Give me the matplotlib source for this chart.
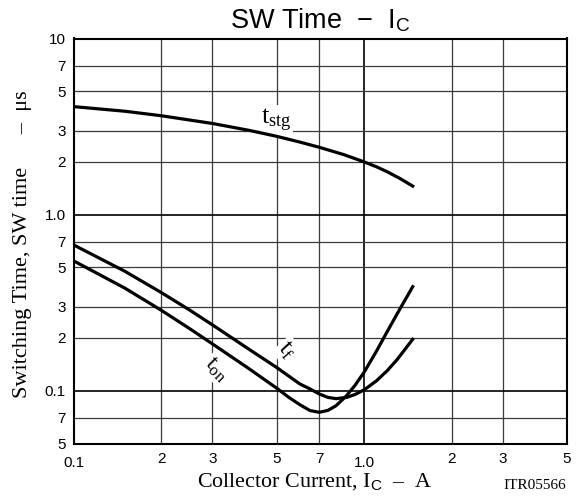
"""SW Time - IC : switching time vs collector current (log-log)."""

import matplotlib
matplotlib.use("Agg")
import matplotlib.pyplot as plt
import matplotlib.transforms as mtrans

plt.rcParams["mathtext.fontset"] = "custom"
plt.rcParams["mathtext.rm"] = "Liberation Serif"
plt.rcParams["mathtext.sf"] = "Liberation Sans"
plt.rcParams["mathtext.it"] = "Liberation Serif:italic"

SANS = "Liberation Sans"
SERIF = "Liberation Serif"

# leituras da curva (A, us)
ic_stg = [0.1, 0.15, 0.2, 0.3, 0.4, 0.5, 0.6, 0.7, 0.85, 1.0, 1.1, 1.2, 1.33, 1.47]
t_stg = [4.1, 3.86, 3.64, 3.29, 3.01, 2.78, 2.58, 2.41, 2.19, 1.99, 1.87, 1.75, 1.6, 1.45]

ic_f = [0.1, 0.15, 0.2, 0.25, 0.3, 0.4, 0.5, 0.6, 0.65, 0.7, 0.75, 0.8, 0.87, 0.93,
        1.0, 1.1, 1.2, 1.3, 1.47]
t_f = [0.67, 0.475, 0.36, 0.287, 0.236, 0.172, 0.135, 0.109, 0.1022, 0.0956, 0.0914,
       0.0899, 0.0914, 0.0949, 0.1009, 0.1132, 0.1295, 0.1502, 0.1956]

ic_on = [0.1, 0.15, 0.2, 0.25, 0.3, 0.4, 0.5, 0.55, 0.6, 0.65, 0.7, 0.75, 0.8, 0.865,
         0.93, 1.0, 1.1, 1.2, 1.3, 1.47]
t_on = [0.544, 0.381, 0.2855, 0.225, 0.184, 0.1334, 0.103, 0.0914, 0.0831, 0.077,
        0.0752, 0.0771, 0.082, 0.0926, 0.107, 0.1273, 0.1662, 0.2158, 0.2734, 0.389]

x_ticks = [0.1, 0.2, 0.3, 0.5, 0.7, 1.0, 2, 3, 5]
x_labels = ["0.1", "2", "3", "5", "7", "1.0", "2", "3", "5"]
y_ticks = [0.05, 0.07, 0.1, 0.2, 0.3, 0.5, 0.7, 1.0, 2, 3, 5, 7, 10]
y_labels = ["5", "7", "0.1", "2", "3", "5", "7", "1.0", "2", "3", "5", "7", "10"]
decades = [0.1, 1.0, 10]

fig = plt.figure(figsize=(5.8, 4.97), dpi=100)
ax = fig.add_axes([74 / 580, 1 - 443.5 / 497, (567 - 74) / 580, (443.5 - 38.5) / 497])
ax.set_xscale("log")
ax.set_yscale("log")
ax.set_xlim(0.1, 5)
ax.set_ylim(0.05, 10)

ax.set_xticks(x_ticks, x_labels, minor=False)
ax.set_yticks(y_ticks, y_labels, minor=False)
ax.minorticks_off()
ax.tick_params(length=0, labelsize=11, pad=6)
for lab in ax.get_xticklabels() + ax.get_yticklabels():
    lab.set_family(SANS)

ax.grid(True, which="major", color="#3a3a3a", lw=0.9)
for gl, v in zip(ax.get_xgridlines(), x_ticks):
    if v in decades:
        gl.set_color("black")
        gl.set_linewidth(1.2)
for gl, v in zip(ax.get_ygridlines(), y_ticks):
    if v in decades:
        gl.set_color("black")
        gl.set_linewidth(1.2)
ax.set_axisbelow(True)
for sp in ax.spines.values():
    sp.set_linewidth(1.5)

# "0.1" e "1.0" ficam um pouco mais baixos
for lab, txt in zip(ax.get_xticklabels(), x_labels):
    if txt in ("0.1", "1.0"):
        lab.set_transform(lab.get_transform()
                          + mtrans.ScaledTranslation(0, -4 / 100, fig.dpi_scale_trans))

for ic, t in [(ic_stg, t_stg), (ic_f, t_f), (ic_on, t_on)]:
    ax.plot(ic, t, color="black", lw=2.3, solid_joinstyle="round", zorder=3)

# rótulos com fundo branco por cima da grade, mas por baixo das curvas
box = dict(facecolor="white", edgecolor="none", pad=1)
ax.text(0.498, 3.44, r"t$_\mathregular{stg}$", family=SERIF, fontsize=19,
        ha="center", va="center", bbox=box, zorder=2)
ax.text(0.54, 0.17, r"t$_\mathregular{f}$", family=SERIF, fontsize=18,
        ha="center", va="center", rotation=-48, bbox=box, zorder=2)
ax.text(0.309, 0.1325, r"t$_\mathregular{on}$", family=SERIF, fontsize=17,
        ha="center", va="center", rotation=-45, bbox=box, zorder=2)

fig.text(320 / 580, 1 - 28 / 497, "SW Time  −  I$_\\mathregular{C}$", family=SANS,
         fontsize=19.5, ha="center", va="baseline")
fig.text(315 / 580, 1 - 487 / 497, "Collector Current, I$_\\mathsf{C}$  –  A",
         family=SERIF, fontsize=15.8, ha="center", va="baseline")
fig.text(23 / 580, 1 - 244 / 497, "Switching Time, SW time      –  μs", family=SERIF,
         fontsize=16, rotation=90, ha="center", va="center")
fig.text(566 / 580, 1 - 489 / 497, "ITR05566", family=SERIF, fontsize=11,
         ha="right", va="baseline")

fig.savefig("out.png", dpi=100)
